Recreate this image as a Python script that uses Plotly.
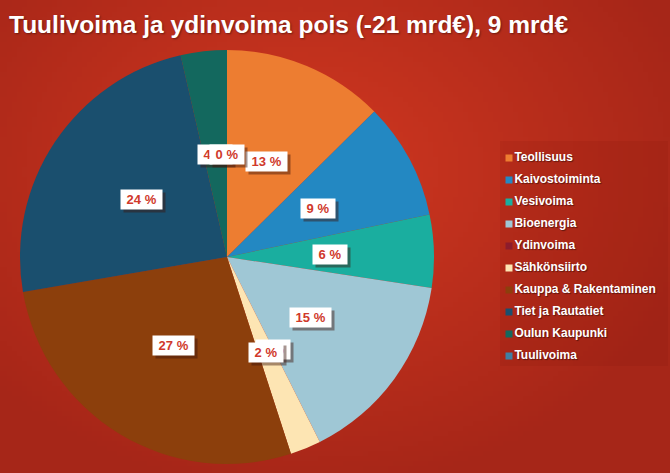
import plotly.graph_objects as go
import zlib, struct, base64, math

# ---------------- data ----------------
categories = ["Teollisuus", "Kaivostoiminta", "Vesivoima", "Bioenergia", "Ydinvoima",
              "Sähkönsiirto", "Kauppa & Rakentaminen", "Tiet ja Rautatiet",
              "Oulun Kaupunki", "Tuulivoima"]
shares = [12.6, 9.1, 5.7, 15.2, 0.0, 2.4, 27.3, 24.1, 3.6, 0.0]
colors = ["#ed7d31", "#2388c2", "#1aae9f", "#9fc7d5", "#8c1c2c",
          "#fde5b3", "#8c3f0c", "#1a4f6e", "#13685e", "#3f7fa3"]
title_text = "Tuulivoima ja ydinvoima pois (-21 mrd€), 9 mrd€"

W, H = 670, 473

# ---------------- background gradient (png data uri) ----------------
def make_png(w, h, fn):
    raw = bytearray()
    for j in range(h):
        raw.append(0)
        for i in range(w):
            raw.extend(fn(i, j))
    def chunk(tag, data):
        c = struct.pack(">I", len(data)) + tag + data
        return c + struct.pack(">I", zlib.crc32(tag + data) & 0xffffffff)
    png = b"\x89PNG\r\n\x1a\n"
    png += chunk(b"IHDR", struct.pack(">IIBBBBB", w, h, 8, 2, 0, 0, 0))
    png += chunk(b"IDAT", zlib.compress(bytes(raw), 9))
    png += chunk(b"IEND", b"")
    return "data:image/png;base64," + base64.b64encode(png).decode()

gw, gh = 134, 95
inner = (210, 56, 33)
outer = (166, 38, 24)
def grad(i, j):
    x = i / (gw - 1) * W
    y = j / (gh - 1) * H
    d = math.hypot((x - 300) / 420, (y - 170) / 330)
    t = min(1.0, d)
    return bytes(int(inner[k] + (outer[k] - inner[k]) * t) for k in range(3))

bg = make_png(gw, gh, grad)

# ---------------- pie geometry ----------------
cx, cy, R = 227, 257, 207
fig = go.Figure()
fig.add_trace(go.Pie(
    labels=categories, values=shares, sort=False, direction="clockwise",
    rotation=0, marker=dict(colors=colors, line=dict(width=0)),
    textinfo="none", hoverinfo="label+percent", showlegend=False,
    domain=dict(x=[(cx - R) / W, (cx + R) / W], y=[(H - cy - R) / H, (H - cy + R) / H]),
))

# ---------------- legend (as markers + text) ----------------
leg_x = 509
leg_top, leg_step = 158, 22
fig.add_trace(go.Scatter(
    x=[leg_x] * len(categories), y=list(range(len(categories))),
    mode="markers+text", text=categories, textposition="middle right",
    marker=dict(symbol="square", size=7, color=colors, line=dict(width=0)),
    textfont=dict(family="Liberation Sans, Arial", size=12, color="white",
                  weight="bold", shadow="1px 1px 1px rgba(0,0,0,0.45)"),
    hoverinfo="skip", showlegend=False, cliponaxis=False,
))

# ---------------- labels ----------------
total = sum(shares)
annotations = []
cum = 0.0
r_lab = 103
for v in shares:
    mid = (cum + v / 2) / total
    cum += v
    th = 2 * math.pi * mid
    xp = (cx + r_lab * math.sin(th)) / W
    yp = (H - (cy - r_lab * math.cos(th))) / H
    txt = "\u00a0" + f"{round(v / total * 100)} %" + "\u00a0"
    common = dict(x=xp, y=yp, xref="paper", yref="paper", text=txt, showarrow=False,
                  xanchor="center", yanchor="middle", borderpad=2)
    annotations.append(dict(common, bgcolor="rgba(60,20,10,0.45)",
                            font=dict(family="Liberation Sans, Arial", size=13,
                                      color="rgba(0,0,0,0)", weight="bold"),
                            xshift=3, yshift=-3))
    annotations.append(dict(common, bgcolor="white",
                            font=dict(family="Liberation Sans, Arial", size=13,
                                      color="#d0392b", weight="bold")))

fig.update_layout(
    width=W, height=H, margin=dict(l=0, r=0, t=0, b=0),
    paper_bgcolor="#c0301e", plot_bgcolor="rgba(0,0,0,0)",
    title=dict(text=title_text, x=9 / W, xanchor="left", y=1 - 24 / H, yanchor="middle",
               xref="paper", yref="container",
               font=dict(family="Liberation Sans, Arial", size=24.5,
                         color="white", weight="bold", shadow="1px 1px 2px rgba(0,0,0,0.4)")),
    xaxis=dict(range=[0, W], domain=[0, 1], visible=False, fixedrange=True),
    yaxis=dict(range=[(H - leg_top) / leg_step, -leg_top / leg_step], domain=[0, 1],
               visible=False, fixedrange=True),
    images=[dict(source=bg, xref="paper", yref="paper", x=0, y=1, sizex=1, sizey=1,
                 sizing="stretch", layer="below", xanchor="left", yanchor="top")],
    shapes=[dict(type="rect", xref="paper", yref="paper", x0=500 / W, x1=668 / W,
                 y0=(H - 366) / H, y1=(H - 141) / H, fillcolor="rgba(120,20,10,0.12)",
                 line=dict(width=0), layer="below")],
    annotations=annotations,
)

fig.write_html("out.html")
